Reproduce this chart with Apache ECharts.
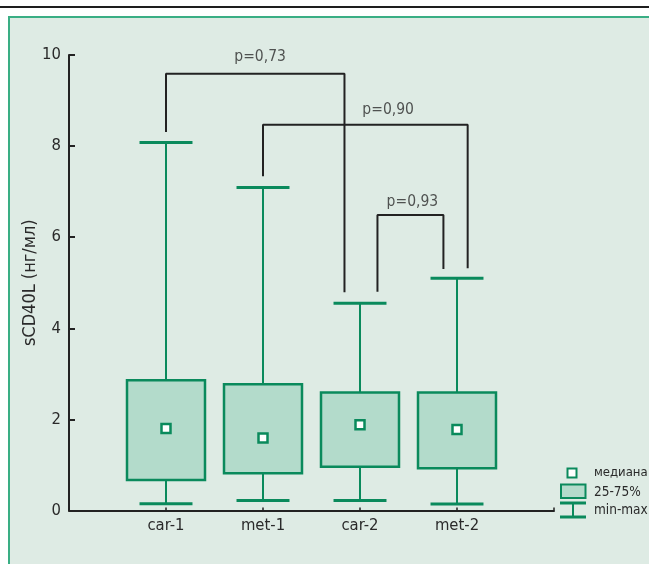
<!DOCTYPE html>
<html>
<head>
<meta charset="utf-8">
<script src="https://cdn.jsdelivr.net/npm/echarts@6/dist/echarts.min.js"></script>
<style>
html,body{margin:0;padding:0;background:#fff;}
#c{width:649px;height:564px;}
</style>
</head>
<body>
<div id="c"></div>
<script>
// Data
const categories = ['car-1', 'met-1', 'car-2', 'met-2'];
const minValues    = [0.15, 0.22, 0.22, 0.14];
const q1Values     = [0.67, 0.82, 0.96, 0.93];
const medianValues = [1.80, 1.59, 1.88, 1.78];
const q3Values     = [2.86, 2.77, 2.59, 2.59];
const maxValues    = [8.08, 7.09, 4.55, 5.10];
const yTicks = [0, 2, 4, 6, 8, 10];
const pLabels = ['p=0,73', 'p=0,90', 'p=0,93'];
// bracket annotation paths [x, y] in data units
const bracket1 = [[1.00, 8.31], [1.00, 9.59], [2.84, 9.59], [2.84, 4.79]];
const bracket2 = [[2.00, 7.34], [2.00, 8.47], [4.11, 8.47], [4.11, 5.32]];
const bracket3 = [[3.18, 4.80], [3.18, 6.49], [3.86, 6.49], [3.86, 5.30]];
const pLabelPos = [[1.97, 9.95], [3.29, 8.79], [3.54, 6.78]];

const FONT = '"DejaVu Sans Condensed", "DejaVu Sans", sans-serif';
const GREEN = '#0a8a5c';
const FILL = '#b3dbcb';
const BG = '#deebe4';
const DARK = '#222';
const TXT = '#2a2a2a';

const boxData = categories.map((c, i) => [i + 1, minValues[i], q1Values[i], medianValues[i], q3Values[i], maxValues[i]]);

const chart = echarts.init(document.getElementById('c'));

function bracketSeries(path) {
  return {
    type: 'line', data: path, symbol: 'none', silent: true, z: 3,
    lineStyle: { color: DARK, width: 2 }, animation: false
  };
}

const option = {
  animation: false,
  backgroundColor: '#fff',
  graphic: [
    { type: 'rect', z: -10, shape: { x: 9, y: 17, width: 700, height: 600 },
      style: { fill: BG, stroke: '#3aae84', lineWidth: 2 } },
    { type: 'line', z: -10, shape: { x1: 0, y1: 7, x2: 649, y2: 7 },
      style: { stroke: '#1e1e1e', lineWidth: 2 } },
    // legend
    { type: 'rect', shape: { x: 567.5, y: 468.5, width: 9, height: 9 },
      style: { fill: '#fff', stroke: GREEN, lineWidth: 2 } },
    { type: 'text', x: 594, y: 473, style: { text: 'медиана', font: '13px ' + FONT, fill: TXT, verticalAlign: 'middle' } },
    { type: 'rect', shape: { x: 561, y: 484.5, width: 24.5, height: 13.5 },
      style: { fill: FILL, stroke: GREEN, lineWidth: 2 } },
    { type: 'text', x: 594, y: 492, style: { text: '25-75%', font: '13.5px ' + FONT, fill: TXT, verticalAlign: 'middle' } },
    { type: 'line', shape: { x1: 560, y1: 503, x2: 586, y2: 503 }, style: { stroke: GREEN, lineWidth: 3 } },
    { type: 'line', shape: { x1: 573, y1: 503, x2: 573, y2: 517 }, style: { stroke: GREEN, lineWidth: 2 } },
    { type: 'line', shape: { x1: 560, y1: 517, x2: 586, y2: 517 }, style: { stroke: GREEN, lineWidth: 3 } },
    { type: 'text', x: 594, y: 510.5, style: { text: 'min-max', font: '13.5px ' + FONT, fill: TXT, verticalAlign: 'middle' } }
  ],
  grid: { left: 69, top: 55, width: 485, height: 455.5, containLabel: false },
  xAxis: {
    type: 'value', min: 0, max: 5, interval: 1,
    axisLine: { lineStyle: { color: DARK, width: 2 } },
    axisTick: { show: true, inside: true, length: 3, lineStyle: { color: DARK, width: 1.5 } },
    splitLine: { show: false },
    axisLabel: {
      margin: 7, color: TXT, fontSize: 16.5, fontFamily: FONT,
      formatter: v => (v >= 1 && v <= categories.length) ? categories[v - 1] : ''
    }
  },
  yAxis: {
    type: 'value', min: 0, max: 10, interval: 2,
    name: 'sCD40L (нг/мл)', nameLocation: 'middle', nameRotate: 90, nameGap: 30,
    nameMoveOverlap: false,
    nameTextStyle: { color: TXT, fontSize: 18, fontFamily: FONT },
    axisLine: { show: true, lineStyle: { color: DARK, width: 2 } },
    axisTick: { show: true, inside: true, length: 6, lineStyle: { color: DARK, width: 2 } },
    splitLine: { show: false },
    axisLabel: {
      margin: 8, color: TXT, fontSize: 16.5, fontFamily: FONT,
      formatter: v => yTicks.indexOf(v) >= 0 ? String(v) : ''
    }
  },
  series: [
    {
      type: 'custom', data: boxData, z: 2,
      encode: { x: 0, y: [1, 2, 3, 4, 5] },
      renderItem: function (params, api) {
        const x = api.value(0);
        const pMin = api.coord([x, api.value(1)]);
        const pQ1 = api.coord([x, api.value(2)]);
        const pMed = api.coord([x, api.value(3)]);
        const pQ3 = api.coord([x, api.value(4)]);
        const pMax = api.coord([x, api.value(5)]);
        const halfBox = api.size([0.804, 0])[0] / 2;
        const halfCap = api.size([0.546, 0])[0] / 2;
        const cx = pMed[0];
        return {
          type: 'group',
          children: [
            { type: 'line', shape: { x1: cx, y1: pMin[1], x2: cx, y2: pQ1[1] }, style: { stroke: GREEN, lineWidth: 2 } },
            { type: 'line', shape: { x1: cx, y1: pQ3[1], x2: cx, y2: pMax[1] }, style: { stroke: GREEN, lineWidth: 2 } },
            { type: 'line', shape: { x1: cx - halfCap, y1: pMin[1], x2: cx + halfCap, y2: pMin[1] }, style: { stroke: GREEN, lineWidth: 3 } },
            { type: 'line', shape: { x1: cx - halfCap, y1: pMax[1], x2: cx + halfCap, y2: pMax[1] }, style: { stroke: GREEN, lineWidth: 3 } },
            { type: 'rect', shape: { x: cx - halfBox, y: pQ3[1], width: halfBox * 2, height: pQ1[1] - pQ3[1] },
              style: { fill: FILL, stroke: GREEN, lineWidth: 2.5 } },
            { type: 'rect', shape: { x: cx - 4.5, y: pMed[1] - 4.5, width: 9, height: 9 },
              style: { fill: '#fff', stroke: GREEN, lineWidth: 2.5 } }
          ]
        };
      }
    },
    bracketSeries(bracket1),
    bracketSeries(bracket2),
    bracketSeries(bracket3),
    {
      type: 'scatter', symbolSize: 0, silent: true, z: 4,
      data: pLabelPos.map((p, i) => ({ value: p, name: pLabels[i] })),
      label: { show: true, position: 'inside', formatter: '{b}', color: TXT, fontSize: 15.5, fontFamily: FONT }
    }
  ]
};
chart.setOption(option);
</script>
</body>
</html>
